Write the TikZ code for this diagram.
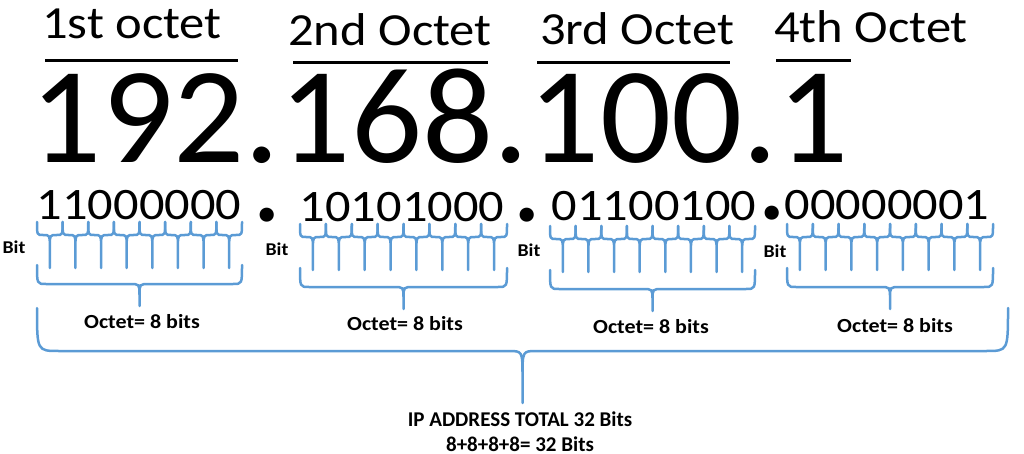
\documentclass[tikz,border=0pt]{standalone}
\usepackage{fontspec}
\setmainfont{Carlito}
\usetikzlibrary{positioning}
\definecolor{braceblue}{RGB}{91,155,213}
\newcommand{\wide}[2][1.1]{\scalebox{#1}[1]{#2}}
\tikzstyle{toplabel} = [inner sep=0pt, anchor=base, font=\fontsize{46}{50}\selectfont]
\tikzstyle{bignum}   = [inner sep=0pt, anchor=base, font=\fontsize{137}{140}\selectfont]
\tikzstyle{binnum}   = [inner sep=0pt, anchor=base, font=\fontsize{45}{48}\selectfont]
\tikzstyle{sepdot}   = [inner sep=0pt, anchor=base, font=\fontsize{95}{96}\selectfont\bfseries]
\tikzstyle{bitlabel} = [inner sep=0pt, anchor=base, font=\fontsize{18}{20}\selectfont\bfseries]
\tikzstyle{octlabel} = [inner sep=0pt, anchor=base, font=\fontsize{20}{22}\selectfont\bfseries]
\tikzstyle{totlabel} = [inner sep=0pt, anchor=base, font=\fontsize{21}{23}\selectfont\bfseries]
\tikzstyle{uline}    = [draw, line width=3pt]
\tikzstyle{brace}    = [draw=braceblue, line width=2.5pt, line cap=round]

% brace: x0, x1, top, flat, tip, end curl, cusp curl x, cusp curl y
\newcommand{\ipbrace}[8]{%
  \pgfmathsetmacro{\xm}{(#1+#2)/2}
  \path[brace] (#1,#3) .. controls (#1,#4) .. ({#1+#6},#4) -- ({\xm-#7},#4)
    .. controls (\xm,#4) .. (\xm,{#4+#8}) -- (\xm,#5)
    (\xm,{#4+#8}) .. controls (\xm,#4) .. ({\xm+#7},#4) -- ({#2-#6},#4)
    .. controls (#2,#4) .. (#2,#3);
}

\begin{document}
\begin{tikzpicture}[x=1pt, y=-1pt]
\useasboundingbox (0,0) rectangle (1024,454);

% octet titles =============================
\node[toplabel] (oct1) at (132,39) {\wide{1st octet}};
\node[toplabel] (oct2) at (390,46) {\wide{2nd Octet}};
\node[toplabel] (oct3) at (637,45) {\wide{3rd Octet}};
\node[toplabel] (oct4) at (871,43) {\wide{4th Octet}};
\path[uline] (45,61) -- (238,61);
\path[uline] (293,63) -- (488,63);
\path[uline] (537,63) -- (730,63);
\path[uline] (776,61) -- (851,61);

% address
\node[bignum] (ip) at (440,163) {\wide[1.025]{192.168.100.1}};

% binary octets
\node[binnum] (bin1) at (139,220) {\wide[1.12]{11000000}};
\node[binnum] (bin2) at (402,222) {\wide[1.12]{10101000}};
\node[binnum] (bin3) at (654,221) {\wide[1.12]{01100100}};
\node[binnum] (bin4) at (887,220) {\wide[1.12]{00000001}};
\node[sepdot] (dot1) at (267,222) {.};
\node[sepdot] (dot2) at (527,222) {.};
\node[sepdot] (dot3) at (772,219) {.};

\node[bitlabel] (bit1) at (14,253) {\wide{Bit}};
\node[bitlabel] (bit2) at (277,255) {\wide{Bit}};
\node[bitlabel] (bit3) at (529,256) {\wide{Bit}};
\node[bitlabel] (bit4) at (775,258) {\wide{Bit}};

% braces
\foreach \xa/\xb/\dy/\dz in {37/242/0/0, 300/507/2/3, 550/755/4/5, 787/993/2/3} {
  \pgfmathsetmacro{\w}{(\xb-\xa)/8}
  \foreach \i in {0,...,7} {
    \ipbrace{\xa+\i*\w}{\xa+\i*\w+\w}{222+\dy}{235+\dy}{268+\dy}{6}{7}{11}
  }
  \ipbrace{\xa}{\xb}{265+\dz}{284+\dz}{306+\dz}{9}{10}{11}
}
\ipbrace{37}{1008}{308}{351}{403}{22}{14}{26}

\node[octlabel] (len1) at (142,328) {\wide{Octet= 8 bits}};
\node[octlabel] (len2) at (405,330) {\wide{Octet= 8 bits}};
\node[octlabel] (len3) at (651,333) {\wide{Octet= 8 bits}};
\node[octlabel] (len4) at (895,332) {\wide{Octet= 8 bits}};

\node[totlabel] (total) at (520,426) {IP ADDRESS TOTAL 32 Bits};
\node[totlabel, anchor=north, below=10pt of total] (sum) {8+8+8+8= 32 Bits};

\end{tikzpicture}
\end{document}
